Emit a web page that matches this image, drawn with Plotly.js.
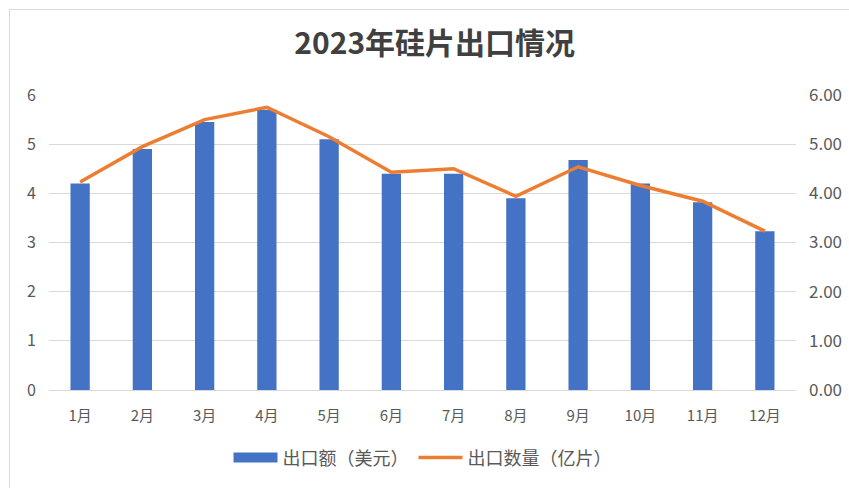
<!DOCTYPE html>
<html><head><meta charset="utf-8">
<script src="https://cdn.plot.ly/plotly-3.0.1.min.js"></script>
<style>
html,body{margin:0;padding:0;background:#fff;overflow:hidden;}
#chart{width:849px;height:488px;position:absolute;left:0;top:0;}
#frame{position:absolute;left:9px;top:9px;width:900px;height:600px;border:1px solid #d9d9d9;pointer-events:none;}
</style></head>
<body>
<div id="chart"></div>
<div id="frame"></div>
<script>
const months = ['1月','2月','3月','4月','5月','6月','7月','8月','9月','10月','11月','12月'];
const exportValue = [4.2, 4.9, 5.45, 5.7, 5.1, 4.4, 4.4, 3.9, 4.68, 4.2, 3.82, 3.23];
const exportQty = [4.23, 4.95, 5.5, 5.75, 5.15, 4.43, 4.5, 3.94, 4.54, 4.16, 3.84, 3.23];
const seriesNames = ['出口额（美元）', '出口数量（亿片）'];
const titleText = '2023年硅片出口情况';

const font = '"Noto Sans CJK SC", "Noto Sans", sans-serif';
const data = [
  {type:'bar', x:months, y:exportValue, name:seriesNames[0], marker:{color:'#4472C4'}, yaxis:'y', showlegend:false},
  {type:'scatter', mode:'lines', x:[null], y:[null], name:seriesNames[0], line:{color:'#4472C4', width:10}, yaxis:'y', showlegend:true},
  {type:'scatter', mode:'lines', x:months, y:exportQty, name:seriesNames[1], line:{color:'#ED7D31', width:3.5}, yaxis:'y2'}
];
const layout = {
  width:849, height:488,
  margin:{l:49, r:53, t:95, b:98},
  paper_bgcolor:'#fff', plot_bgcolor:'#fff',
  font:{family:font, color:'#595959', size:14},
  title:{text:'<b>'+titleText+'</b>', x:0.512, xanchor:'center', y:0.91, yanchor:'middle', font:{size:30, color:'#404040', family:font}},
  bargap:0.69,
  showlegend:true,
  legend:{orientation:'h', x:0.5, xanchor:'center', y:-0.23, yanchor:'middle', font:{size:18, color:'#595959'}, traceorder:'normal', itemwidth:44},
  xaxis:{type:'category', showgrid:false, showline:true, linecolor:'#d9d9d9', linewidth:1, ticks:'', tickfont:{size:15, color:'#595959'}, ticklabelstandoff:12},
  yaxis:{range:[0,6], dtick:1, showgrid:true, gridcolor:'#d9d9d9', zeroline:false, showline:false, ticks:'', tickfont:{size:16, color:'#595959'}, ticklabelstandoff:12},
  yaxis2:{range:[0,6], dtick:1, overlaying:'y', side:'right', showgrid:false, zeroline:false, showline:false, tickformat:'.2f', ticks:'', tickfont:{size:17, color:'#595959'}, ticklabelstandoff:12}
};
Plotly.newPlot('chart', data, layout, {displayModeBar:false, staticPlot:true});
</script>
</body></html>
